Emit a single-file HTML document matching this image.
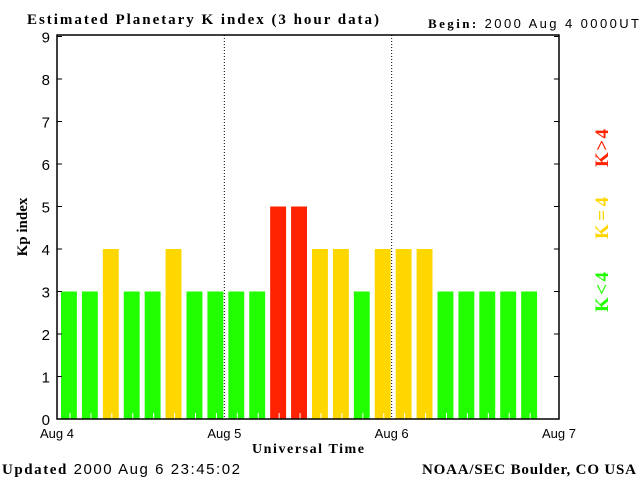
<!DOCTYPE html>
<html><head><meta charset="utf-8"><style>
body{margin:0;background:#fff}
svg text{font-family:"Liberation Sans",sans-serif}
.b{font-family:"Liberation Serif",serif;font-weight:bold}
</style></head><body>
<svg id="c" width="640" height="480" xmlns="http://www.w3.org/2000/svg">
<text class="b" x="27" y="24" font-size="15" textLength="352" lengthAdjust="spacing">Estimated Planetary K index (3 hour data)</text>
<text x="428" y="28" font-size="13" textLength="211" lengthAdjust="spacing"><tspan class="b" font-family="Liberation Serif">Begin:</tspan>  2000 Aug 4 0000UT</text>
<g id="bars"></g>
<rect x="57" y="35" width="502" height="384" fill="none" stroke="#000" stroke-width="1.5"/>
<g id="axes"></g>
<text class="b" x="27" y="227" font-size="15" text-anchor="middle" transform="rotate(-90 27 227)">Kp index</text>
<text class="b" x="308" y="453" font-size="14" text-anchor="middle" textLength="112" lengthAdjust="spacing">Universal Time</text>
<text x="2" y="474" font-size="15" textLength="238" lengthAdjust="spacing"><tspan class="b" font-family="Liberation Serif">Updated</tspan> 2000 Aug  6 23:45:02</text>
<text class="b" x="422" y="474" font-size="15" textLength="214" lengthAdjust="spacing">NOAA/SEC Boulder, CO USA</text>
<text class="b" x="608" y="148" font-size="19" fill="#ff2200" text-anchor="middle" textLength="38" lengthAdjust="spacing" transform="rotate(-90 608 148)">K&gt;4</text>
<text class="b" x="608" y="218" font-size="19" fill="#ffd700" text-anchor="middle" textLength="42" lengthAdjust="spacing" transform="rotate(-90 608 218)">K=4</text>
<text class="b" x="608" y="292" font-size="19" fill="#22ff00" text-anchor="middle" textLength="40" lengthAdjust="spacing" transform="rotate(-90 608 292)">K&lt;4</text>
</svg>
<script>
const kpValues=[3,3,4,3,3,4,3,3,3,3,5,5,4,4,3,4,4,4,3,3,3,3,3];
const yTicks=[0,1,2,3,4,5,6,7,8,9];
const dayLabels=["Aug 4","Aug 5","Aug 6","Aug 7"];
const NS="http://www.w3.org/2000/svg";
const L=57,R=559,T=35,B=419;
const y=v=>B-(v/9)*(B-T-1.5);
const slotW=(R-L)/24;
const xs=i=>L+i*slotW;
function mk(t,a,p){const e=document.createElementNS(NS,t);for(const k in a)e.setAttribute(k,a[k]);p.appendChild(e);return e;}
const bars=document.getElementById('bars'),ax=document.getElementById('axes');
kpValues.forEach((v,i)=>{
 const col=v>4?'#ff2200':v==4?'#ffd700':'#22ff00';
 const r=mk('rect',{x:xs(i)+4,y:y(v),width:slotW-5,height:B-y(v),fill:col},bars);
 
 
 const tk=mk('line',{x1:xs(i)+13,x2:xs(i)+13,y1:B,y2:B-6,stroke:'#fff'},bars);
 
 
});
yTicks.forEach(v=>{
 mk('line',{x1:L,x2:L+5,y1:y(v),y2:y(v),stroke:'#000'},ax);
 mk('line',{x1:R-5,x2:R,y1:y(v),y2:y(v),stroke:'#000'},ax);
 const t=mk('text',{x:50,y:y(v)+6,'font-size':15,'text-anchor':'end'},ax);
 t.textContent=v;
 
 
});
dayLabels.forEach((d,i)=>{
 const x=L+i*8*slotW;
 if(i>0&&i<3){const l=mk('line',{x1:x,x2:x,y1:T,y2:B,stroke:'#000','stroke-dasharray':'1,2'},ax);
  
  }
 const t=mk('text',{x:x,y:438,'font-size':13,'text-anchor':'middle'},ax);
 t.textContent=d;
 
 
});
</script>
</body></html>
